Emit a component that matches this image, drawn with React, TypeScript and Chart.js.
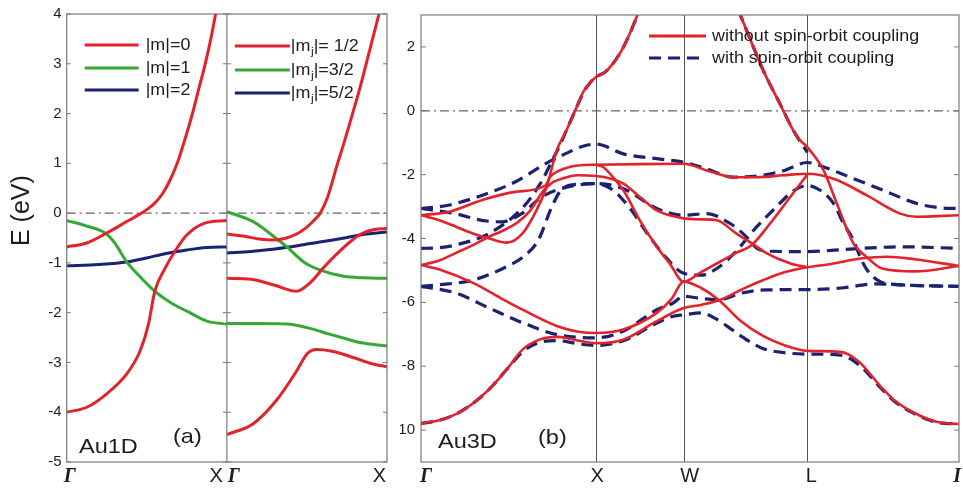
import React, { useEffect, useRef } from 'react';
import { Chart, registerables } from 'chart.js';

Chart.register(...registerables);

type Pt = [number, number];

const SANS = "'Liberation Sans', Arial, Helvetica, sans-serif";
const SERIF = "'Liberation Serif', 'Times New Roman', serif";
const RED = '#e3232b';
const GREEN = '#36a836';
const NAVY = '#1b2270';
const INK = '#1e1e1e';

// ================= Panel (a): Au1D =================
const eTicksA = [-5, -4, -3, -2, -1, 0, 1, 2, 3, 4];
const kLabelsA = ['Γ', 'X', 'Γ', 'X'];
const legendA1 = ['|m|=0', '|m|=1', '|m|=2'];
const legendA2 = ['= 1/2', '=3/2', '=5/2'];

// without SOC (k from Γ=0 to X=1)
const m0Upper: Pt[] = [[0, -0.68], [0.125, -0.6], [0.25, -0.4], [0.375, -0.17], [0.44, -0.05], [0.5, 0.07], [0.55, 0.2], [0.6, 0.4], [0.645, 0.66], [0.69, 1.0], [0.74, 1.5], [0.785, 2], [0.825, 2.5], [0.865, 3], [0.9, 3.5], [0.93, 4], [0.97, 4.6]];
const m0Lower: Pt[] = [[0, -4.0], [0.125, -3.9], [0.25, -3.63], [0.375, -3.23], [0.458, -2.77], [0.51, -2.24], [0.55, -1.57], [0.614, -1.11], [0.677, -0.76], [0.75, -0.44], [0.854, -0.21], [1, -0.15]];
const m1: Pt[] = [[0, -0.15], [0.125, -0.26], [0.24, -0.4], [0.3, -0.6], [0.375, -0.98], [0.45, -1.25], [0.55, -1.57], [0.65, -1.8], [0.75, -1.97], [0.875, -2.17], [1, -2.23]];
const m2: Pt[] = [[0, -1.06], [0.2, -1.03], [0.375, -0.98], [0.5, -0.9], [0.62, -0.81], [0.75, -0.74], [0.875, -0.69], [1, -0.68]];

// with SOC (k from Γ=0 to X=1, drawn in right sub-panel)
const mj12a: Pt[] = [[0, -0.42], [0.1, -0.46], [0.2, -0.52], [0.29, -0.54], [0.36, -0.51], [0.436, -0.42], [0.5, -0.28], [0.54, -0.16], [0.583, 0], [0.63, 0.33], [0.687, 0.95], [0.74, 1.5], [0.785, 2.0], [0.83, 2.5], [0.87, 3.0], [0.91, 3.5], [0.95, 4], [1, 4.7]];
const mj12b: Pt[] = [[0, -1.31], [0.15, -1.33], [0.3, -1.45], [0.436, -1.57], [0.52, -1.4], [0.6, -1.11], [0.7, -0.78], [0.78, -0.55], [0.85, -0.4], [0.92, -0.33], [1, -0.31]];
const mj12c: Pt[] = [[0, -4.45], [0.165, -4.23], [0.31, -3.76], [0.436, -3.17], [0.5, -2.83], [0.56, -2.74], [0.65, -2.77], [0.79, -2.9], [0.9, -3.02], [1, -3.09]];
const mj32a: Pt[] = [[0, 0.03], [0.17, -0.18], [0.32, -0.54], [0.375, -0.68], [0.48, -0.98], [0.58, -1.14], [0.73, -1.27], [0.85, -1.3], [1, -1.31]];
const mj32b: Pt[] = [[0, -2.22], [0.2, -2.22], [0.375, -2.23], [0.5, -2.3], [0.64, -2.43], [0.75, -2.53], [0.83, -2.6], [1, -2.67]];
const mj52: Pt[] = [[0, -0.8], [0.15, -0.77], [0.3, -0.72], [0.45, -0.65], [0.58, -0.58], [0.7, -0.52], [0.85, -0.43], [1, -0.38]];

// ================= Panel (b): Au3D =================
const eTicksB = [-10, -8, -6, -4, -2, 0, 2];
const kPathB = [0, 1, 1.5, 2.207, 3.073];
const kLabelsB = ['Γ', 'X', 'W', 'L', 'I'];
const legendB = ['without spin-orbit coupling', 'with spin-orbit coupling'];

// without spin-orbit coupling
const r1: Pt[] = [[0, -9.79], [0.1, -9.7], [0.2, -9.5], [0.3, -9.15], [0.39, -8.72], [0.49, -8.1], [0.58, -7.48], [0.68, -7.16], [0.78, -7.08], [0.9, -7.2], [1, -7.28], [1.155, -7.17], [1.347, -6.59], [1.5, -6.18], [1.6, -6.08], [1.71, -5.92], [1.83, -5.6], [1.956, -5.3], [2.08, -5.05], [2.207, -4.9], [2.34, -4.8], [2.52, -4.62], [2.66, -4.57], [2.82, -4.65], [3.073, -4.86]];
const r2: Pt[] = [[0, -4.83], [0.11, -4.98], [0.3, -5.4], [0.45, -5.85], [0.58, -6.23], [0.775, -6.74], [0.9, -6.92], [1, -6.96], [1.155, -6.85], [1.347, -6.33], [1.43, -5.9], [1.5, -5.35], [1.6, -5.55], [1.71, -5.97], [1.83, -6.6], [1.956, -7.06], [2.08, -7.35], [2.207, -7.52], [2.394, -7.55], [2.5, -7.85], [2.623, -8.62], [2.7, -9.05], [2.813, -9.45], [2.95, -9.75], [3.073, -9.81]];
const r3: Pt[] = [[0, -4.83], [0.1, -4.7], [0.2, -4.45], [0.3, -4.2], [0.39, -3.94], [0.47, -3.75], [0.55, -3.5], [0.62, -3.15], [0.7, -2.5], [0.73, -2.34], [0.756, -2.23], [0.82, -2.1], [0.89, -2.02], [1, -2.04], [1.156, -2.28], [1.25, -2.7], [1.347, -3.12], [1.5, -3.37], [1.6, -3.4], [1.69, -3.43], [1.8, -3.84], [1.89, -4.15], [1.97, -4.45], [2.11, -4.78], [2.207, -4.9]];
const r4: Pt[] = [[0, -3.27], [0.156, -3.17], [0.347, -2.8], [0.537, -2.54], [0.71, -2.34], [0.737, -2.07], [0.78, -1.9], [0.85, -1.76], [0.93, -1.7], [1, -1.69], [1.25, -1.67], [1.5, -1.66], [1.633, -1.87], [1.785, -2.08], [1.918, -2.08], [2.07, -2.02], [2.207, -1.97], [2.357, -2.13], [2.547, -2.65], [2.737, -3.22], [2.83, -3.32], [2.95, -3.3], [3.073, -3.27]];
const r5: Pt[] = [[0, -3.27], [0.1, -3.42], [0.2, -3.63], [0.3, -3.85], [0.39, -4.0], [0.49, -4.13], [0.58, -3.84], [0.66, -3.11], [0.72, -2.34], [0.775, -1.25], [0.83, -0.62], [0.88, 0], [0.93, 0.62], [0.966, 0.88], [1, 1.06], [1.06, 1.25], [1.155, 1.98], [1.23, 2.91], [1.3, 3.9], [1.4, 5.0], [1.5, 5.5], [1.6, 5.3], [1.7, 4.5], [1.76, 3.8], [1.823, 3.01], [1.956, 1.25], [2.051, 0.21], [2.127, -0.62], [2.17, -0.95], [2.207, -1.14], [2.3, -1.87], [2.375, -2.9], [2.47, -4.15], [2.55, -4.6], [2.63, -4.93], [2.82, -5.03], [3.073, -4.86]];
const r6: Pt[] = [[1, -1.69], [1.04, -1.76], [1.1, -2.1], [1.156, -2.49], [1.25, -3.43], [1.347, -4.26], [1.42, -4.78], [1.5, -5.35], [1.6, -5.05], [1.71, -4.72], [1.8, -4.45], [1.89, -4.2], [1.994, -3.53], [2.109, -2.7], [2.207, -2.0]];

// with spin-orbit coupling
const d1: Pt[] = [[0, -3.06], [0.155, -2.96], [0.347, -2.65], [0.537, -2.23], [0.727, -1.61], [0.823, -1.35], [0.92, -1.12], [1, -1.04], [1.156, -1.35], [1.347, -1.5], [1.5, -1.61], [1.633, -1.82], [1.78, -2.08], [1.92, -2.04], [2.07, -1.88], [2.207, -1.62], [2.3, -1.76], [2.45, -2.08], [2.64, -2.49], [2.83, -2.9], [2.95, -3.03], [3.073, -3.06]];
const d2: Pt[] = [[0, -3.06], [0.194, -3.22], [0.347, -3.43], [0.46, -3.48], [0.575, -3.22], [0.69, -2.7], [0.8, -2.44], [0.9, -2.32], [1, -2.28], [1.156, -2.44], [1.347, -3.06], [1.5, -3.27], [1.633, -3.22], [1.766, -3.53], [1.85, -3.9], [1.918, -4.3], [2.0, -4.4], [2.207, -4.41], [2.45, -4.33], [2.75, -4.26], [3.073, -4.31]];
const d3: Pt[] = [[0, -4.31], [0.1, -4.29], [0.2, -4.2], [0.39, -3.84], [0.585, -3.01], [0.69, -2.2], [0.75, -1.55], [0.8, -1.0], [0.83, -0.62], [0.88, 0], [0.93, 0.6], [0.966, 0.88], [1, 1.06], [1.06, 1.25], [1.155, 1.98], [1.23, 2.91], [1.3, 3.9], [1.4, 5.0], [1.5, 5.5], [1.6, 5.3], [1.7, 4.5], [1.76, 3.8], [1.823, 3.01], [1.956, 1.25], [2.051, 0.21], [2.127, -0.62], [2.17, -1.0], [2.207, -1.3]];
const d4: Pt[] = [[0, -5.5], [0.1, -5.45], [0.3, -5.3], [0.49, -4.88], [0.585, -4.57], [0.67, -4.05], [0.747, -3.01], [0.8, -2.49], [0.9, -2.3], [1, -2.28], [1.1, -2.5], [1.2, -3.1], [1.3, -3.9], [1.4, -4.6], [1.5, -5.09], [1.6, -5.15], [1.7, -4.9], [1.8, -4.4], [1.9, -3.74], [2.01, -3.12], [2.13, -2.5], [2.207, -2.34], [2.28, -2.49], [2.356, -2.9], [2.413, -3.53], [2.47, -4.05], [2.51, -4.6], [2.547, -4.98], [2.623, -5.35], [2.75, -5.45], [2.9, -5.48], [3.073, -5.5]];
const d5: Pt[] = [[0, -5.5], [0.2, -5.71], [0.39, -6.18], [0.585, -6.65], [0.775, -7.01], [1, -7.11], [1.156, -6.9], [1.347, -6.23], [1.44, -6.02], [1.5, -5.81], [1.6, -5.88], [1.7, -5.92], [1.83, -5.71], [1.97, -5.61], [2.207, -5.6], [2.4, -5.55], [2.6, -5.42], [2.8, -5.47], [3.073, -5.5]];
const d6: Pt[] = [[0, -9.79], [0.1, -9.7], [0.2, -9.5], [0.3, -9.15], [0.39, -8.72], [0.49, -8.1], [0.58, -7.55], [0.68, -7.25], [0.78, -7.2], [0.9, -7.3], [1, -7.35], [1.156, -7.2], [1.347, -6.65], [1.43, -6.45], [1.5, -6.39], [1.6, -6.33], [1.68, -6.5], [1.75, -6.75], [1.84, -7.1], [1.956, -7.45], [2.08, -7.58], [2.207, -7.62], [2.394, -7.65], [2.5, -7.95], [2.623, -8.66], [2.7, -9.08], [2.813, -9.47], [2.95, -9.76], [3.073, -9.81]];

// ================= helpers =================
const toXY = (a: Pt[], shift = 0) => a.map(([k, e]) => ({ x: k + shift, y: e }));

const lineDs = (a: Pt[], color: string, width: number, shift = 0, dash: number[] = [], order = 1) => ({
  data: toXY(a, shift),
  borderColor: color,
  backgroundColor: color,
  borderWidth: width,
  borderDash: dash,
  pointRadius: 0,
  fill: false,
  cubicInterpolationMode: 'monotone' as const,
  order,
});

function stretchText(ctx: CanvasRenderingContext2D, text: string, x: number, y: number, sx = 1.12) {
  ctx.save();
  ctx.translate(x, y);
  ctx.scale(sx, 1);
  ctx.fillText(text, 0, 0);
  ctx.restore();
  return ctx.measureText(text).width * sx;
}

function dashDotZero(chart: any) {
  const { ctx, chartArea: ca } = chart;
  const y0 = chart.scales.y.getPixelForValue(0);
  ctx.save();
  ctx.strokeStyle = '#666';
  ctx.lineWidth = 1.2;
  ctx.setLineDash([9, 4, 2, 4]);
  ctx.beginPath();
  ctx.moveTo(ca.left, y0);
  ctx.lineTo(ca.right, y0);
  ctx.stroke();
  ctx.restore();
}

// ================= plugins =================
const panelAPlugin = {
  id: 'panelA',
  beforeDatasetsDraw(chart: any) {
    dashDotZero(chart);
  },
  afterDatasetsDraw(chart: any) {
    const { ctx, chartArea: ca } = chart;
    const xs = chart.scales.x;
    const ys = chart.scales.y;
    const xm = xs.getPixelForValue(1);
    ctx.save();
    ctx.strokeStyle = '#7a7a7a';
    ctx.lineWidth = 1.2;
    ctx.strokeRect(ca.left, ca.top, ca.right - ca.left, ca.bottom - ca.top);
    ctx.beginPath();
    ctx.moveTo(xm, ca.top);
    ctx.lineTo(xm, ca.bottom);
    ctx.stroke();
    ctx.lineWidth = 1;
    for (const v of eTicksA) {
      const py = ys.getPixelForValue(v);
      ctx.beginPath();
      ctx.moveTo(ca.left, py); ctx.lineTo(ca.left + 4, py);
      ctx.moveTo(xm - 4, py); ctx.lineTo(xm + 4, py);
      ctx.moveTo(ca.right - 4, py); ctx.lineTo(ca.right, py);
      ctx.stroke();
    }
    // k-point labels
    ctx.fillStyle = INK;
    ctx.textBaseline = 'alphabetic';
    const by = ca.bottom + 20;
    ctx.font = `italic bold 20px ${SERIF}`;
    ctx.textAlign = 'left';
    ctx.fillText(kLabelsA[0], xs.getPixelForValue(0) - 3, by);
    ctx.fillText(kLabelsA[2], xs.getPixelForValue(1) + 1, by);
    ctx.font = `20px ${SANS}`;
    ctx.textAlign = 'right';
    ctx.fillText(kLabelsA[1], xs.getPixelForValue(1) - 4, by);
    ctx.fillText(kLabelsA[3], xs.getPixelForValue(2) - 1, by);
    // axis title
    ctx.save();
    ctx.translate(22, ys.getPixelForValue(0.05));
    ctx.rotate(-Math.PI / 2);
    ctx.textAlign = 'center';
    ctx.textBaseline = 'middle';
    ctx.font = `25px ${SANS}`;
    ctx.fillText('E (eV)', 0, 0);
    ctx.restore();
    // legends
    const colors = [RED, GREEN, NAVY];
    const ly = [ca.top + 31, ca.top + 54, ca.top + 76];
    ctx.textAlign = 'left';
    ctx.textBaseline = 'middle';
    for (let i = 0; i < 3; i++) {
      ctx.strokeStyle = colors[i];
      ctx.lineWidth = 3;
      ctx.beginPath();
      ctx.moveTo(ca.left + 18, ly[i]);
      ctx.lineTo(ca.left + 72, ly[i]);
      ctx.stroke();
      ctx.font = `16px ${SANS}`;
      stretchText(ctx, legendA1[i], ca.left + 79, ly[i] + 1);
    }
    const ly2 = [ca.top + 32, ca.top + 56, ca.top + 79];
    for (let i = 0; i < 3; i++) {
      ctx.strokeStyle = colors[i];
      ctx.lineWidth = 3;
      ctx.beginPath();
      ctx.moveTo(xm + 8, ly2[i]);
      ctx.lineTo(xm + 63, ly2[i]);
      ctx.stroke();
      let tx = xm + 64;
      ctx.font = `16px ${SANS}`;
      tx += stretchText(ctx, '|m', tx, ly2[i] + 1);
      ctx.font = `11px ${SANS}`;
      tx += stretchText(ctx, 'j', tx + 0.5, ly2[i] + 6) + 0.5;
      ctx.font = `16px ${SANS}`;
      tx += stretchText(ctx, '|', tx, ly2[i] + 1);
      stretchText(ctx, legendA2[i], tx, ly2[i] + 1);
    }
    // panel labels
    ctx.textBaseline = 'alphabetic';
    ctx.font = `21px ${SANS}`;
    stretchText(ctx, 'Au1D', 79, 453);
    stretchText(ctx, '(a)', 173, 443);
    ctx.restore();
  },
};

const panelBPlugin = {
  id: 'panelB',
  beforeDatasetsDraw(chart: any) {
    const { ctx, chartArea: ca } = chart;
    const xs = chart.scales.x;
    ctx.save();
    ctx.strokeStyle = '#555';
    ctx.lineWidth = 1;
    for (const k of kPathB.slice(1, -1)) {
      const px = Math.round(xs.getPixelForValue(k)) + 0.5;
      ctx.beginPath();
      ctx.moveTo(px, ca.top);
      ctx.lineTo(px, ca.bottom);
      ctx.stroke();
    }
    ctx.restore();
    dashDotZero(chart);
  },
  afterDatasetsDraw(chart: any) {
    const { ctx, chartArea: ca } = chart;
    const xs = chart.scales.x;
    const ys = chart.scales.y;
    ctx.save();
    ctx.strokeStyle = '#7a7a7a';
    ctx.lineWidth = 1.2;
    ctx.strokeRect(ca.left, ca.top, ca.right - ca.left, ca.bottom - ca.top);
    ctx.lineWidth = 1;
    for (const v of eTicksB) {
      const py = ys.getPixelForValue(v);
      ctx.beginPath();
      ctx.moveTo(ca.left, py); ctx.lineTo(ca.left + 5, py);
      ctx.moveTo(ca.right - 5, py); ctx.lineTo(ca.right, py);
      ctx.stroke();
    }
    // k-point labels
    ctx.fillStyle = INK;
    ctx.textBaseline = 'alphabetic';
    const by = ca.bottom + 20;
    const offs = [-1, 1, 6, 4, 2];
    kLabelsB.forEach((lab, i) => {
      const px = xs.getPixelForValue(kPathB[i]) + offs[i];
      if (lab === 'Γ' || lab === 'I') {
        ctx.font = `italic bold 20px ${SERIF}`;
      } else {
        ctx.font = `20px ${SANS}`;
      }
      ctx.textAlign = i === 0 ? 'left' : i === kLabelsB.length - 1 ? 'right' : 'center';
      ctx.fillText(lab, px, by);
    });
    // legend
    const lx0 = ca.left + 228;
    const lx1 = ca.left + 285;
    const ly = [ca.top + 21, ca.top + 43];
    ctx.strokeStyle = RED;
    ctx.lineWidth = 2.8;
    ctx.beginPath();
    ctx.moveTo(lx0, ly[0]);
    ctx.lineTo(lx1, ly[0]);
    ctx.stroke();
    ctx.strokeStyle = NAVY;
    ctx.lineWidth = 3.2;
    ctx.setLineDash([12, 7]);
    ctx.beginPath();
    ctx.moveTo(lx0, ly[1]);
    ctx.lineTo(lx1, ly[1]);
    ctx.stroke();
    ctx.setLineDash([]);
    ctx.textAlign = 'left';
    ctx.textBaseline = 'middle';
    ctx.font = `16px ${SANS}`;
    stretchText(ctx, legendB[0], ca.left + 291, ly[0] + 1);
    stretchText(ctx, legendB[1], ca.left + 291, ly[1] + 1);
    // panel labels
    ctx.textBaseline = 'alphabetic';
    ctx.font = `21px ${SANS}`;
    stretchText(ctx, 'Au3D', ca.left + 17, 448);
    stretchText(ctx, '(b)', ca.left + 117, 444);
    ctx.restore();
  },
};

function configA(): any {
  const datasets = [
    lineDs(m0Upper, RED, 3),
    lineDs(m0Lower, RED, 3),
    lineDs(m1, GREEN, 3),
    lineDs(m2, NAVY, 3),
    lineDs(mj12a, RED, 3, 1),
    lineDs(mj12b, RED, 3, 1),
    lineDs(mj12c, RED, 3, 1),
    lineDs(mj32a, GREEN, 3, 1),
    lineDs(mj32b, GREEN, 3, 1),
    lineDs(mj52, NAVY, 3, 1),
  ];
  return {
    type: 'line',
    data: { datasets },
    options: {
      animation: false,
      responsive: false,
      devicePixelRatio: 1,
      layout: { padding: { left: 0, top: 10, right: 13, bottom: 26 } },
      plugins: { legend: { display: false }, tooltip: { enabled: false } },
      scales: {
        x: { type: 'linear', min: 0, max: 2, display: false },
        y: {
          type: 'linear',
          min: -5,
          max: 4,
          afterBuildTicks: (s: any) => { s.ticks = eTicksA.map((v) => ({ value: v })); },
          afterFit: (s: any) => { s.width = 66.7; },
          grid: { display: false, drawTicks: false },
          border: { display: false },
          ticks: { font: { family: SANS, size: 15 }, color: INK, padding: 5 },
        },
      },
    },
    plugins: [panelAPlugin],
  };
}

function configB(): any {
  const dash = [12, 7];
  const datasets = [
    lineDs(d1, NAVY, 3.2, 0, dash, 2),
    lineDs(d2, NAVY, 3.2, 0, dash, 2),
    lineDs(d3, NAVY, 3.2, 0, dash, 2),
    lineDs(d4, NAVY, 3.2, 0, dash, 2),
    lineDs(d5, NAVY, 3.2, 0, dash, 2),
    lineDs(d6, NAVY, 3.2, 0, dash, 2),
    lineDs(r1, RED, 2.6),
    lineDs(r2, RED, 2.6),
    lineDs(r3, RED, 2.6),
    lineDs(r4, RED, 2.6),
    lineDs(r5, RED, 2.6),
    lineDs(r6, RED, 2.6),
  ];
  return {
    type: 'line',
    data: { datasets },
    options: {
      animation: false,
      responsive: false,
      devicePixelRatio: 1,
      layout: { padding: { left: 0, top: 10, right: 4, bottom: 26 } },
      plugins: { legend: { display: false }, tooltip: { enabled: false } },
      scales: {
        x: { type: 'linear', min: 0, max: kPathB[kPathB.length - 1], display: false },
        y: {
          type: 'linear',
          min: -11,
          max: 3,
          afterBuildTicks: (s: any) => { s.ticks = eTicksB.map((v) => ({ value: v })); },
          afterFit: (s: any) => { s.width = 21; },
          grid: { display: false, drawTicks: false },
          border: { display: false },
          ticks: { font: { family: SANS, size: 15 }, color: INK, padding: 6 },
        },
      },
    },
    plugins: [panelBPlugin],
  };
}

export default function App() {
  const refA = useRef<HTMLCanvasElement>(null);
  const refB = useRef<HTMLCanvasElement>(null);

  useEffect(() => {
    const ca = new Chart(refA.current as HTMLCanvasElement, configA());
    const cb = new Chart(refB.current as HTMLCanvasElement, configB());
    return () => {
      ca.destroy();
      cb.destroy();
    };
  }, []);

  return (
    <div style={{ position: 'fixed', left: 0, top: 0, width: 963, height: 488, background: '#fff', overflow: 'hidden' }}>
      <canvas ref={refA} width={400} height={488} style={{ position: 'absolute', left: 0, top: 0, width: 400, height: 488 }} />
      <canvas ref={refB} width={563} height={488} style={{ position: 'absolute', left: 400, top: 0, width: 563, height: 488 }} />
    </div>
  );
}
